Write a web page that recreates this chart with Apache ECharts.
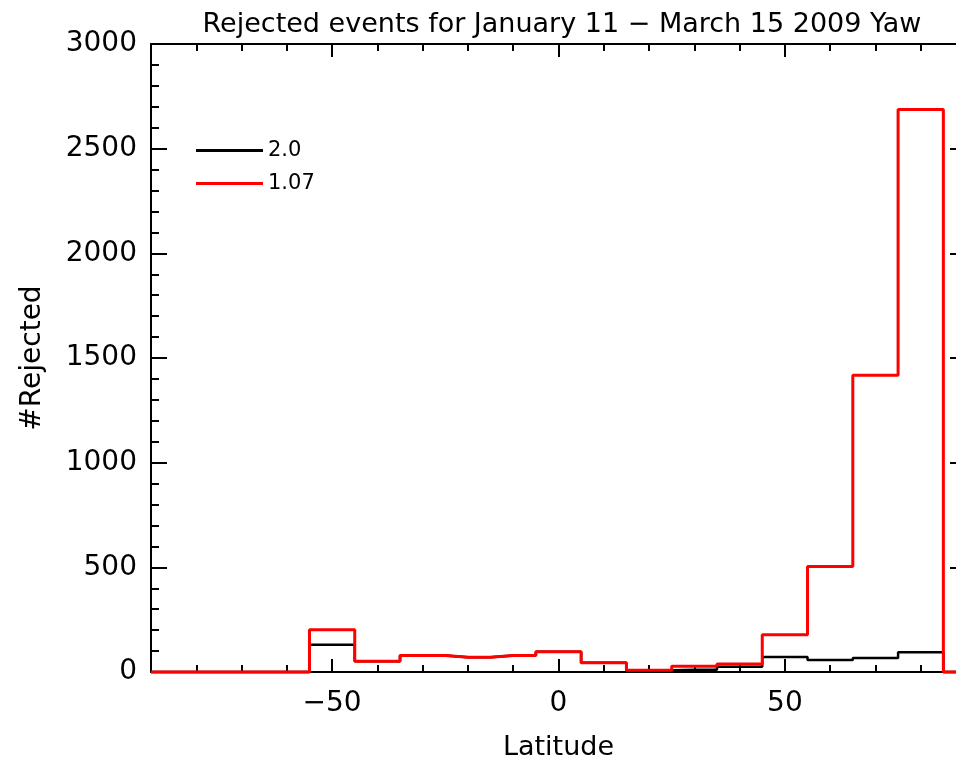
<!DOCTYPE html>
<html>
<head>
<meta charset="utf-8">
<script src="https://cdn.jsdelivr.net/npm/echarts@6/dist/echarts.min.js"></script>
<style>
  html, body { margin: 0; padding: 0; background: #fff; }
  #main { width: 956px; height: 758px; }
</style>
</head>
<body>
<div id="main"></div>
<script>
// bin centres (latitude, deg) and rejected counts per 10 deg bin
var latitude = [-90, -80, -70, -60, -50, -40, -30, -20, -10, 0, 10, 20, 30, 40, 50, 60, 70, 80, 90];
var rejected20 = [0, 0, 0, 0, 130, 51, 79, 70, 79, 97, 44, 8, 11, 25, 72, 57, 67, 94, 0];
var rejected107 = [0, 0, 0, 0, 202, 51, 79, 70, 79, 97, 44, 8, 27, 38, 178, 504, 1418, 2687, 0];
var xMajor = [-50, 0, 50];

function pairs(xs, ys) {
  return xs.map(function (x, i) { return [x, ys[i]]; });
}

var font = 'DejaVu Sans';
var chart = echarts.init(document.getElementById('main'), null, { renderer: 'canvas' });

// x axes: minor ticks every 10, majors on a second axis at the same spot
function xAx(pos, major, labels) {
  return {
    type: 'value', position: pos, min: -90, max: 90,
    interval: major ? undefined : 10,
    splitLine: { show: false },
    axisLine: { show: !major, onZero: false, lineStyle: { color: '#000', width: 2 } },
    axisTick: major
      ? { show: true, inside: true, length: 13, customValues: xMajor, lineStyle: { color: '#000', width: 2 } }
      : { show: true, inside: true, length: 7, lineStyle: { color: '#000', width: 2 } },
    axisLabel: labels ? {
      show: true, customValues: xMajor, margin: 18,
      fontFamily: font, fontSize: 28, color: '#000',
      formatter: function (v) { return v < 0 ? '\u2212' + Math.abs(v) : String(v); }
    } : { show: false }
  };
}

function yAx(pos, labels) {
  return {
    type: 'value', position: pos, min: 0, max: 3000, interval: 500,
    splitLine: { show: false },
    axisLine: { show: true, onZero: false, lineStyle: { color: '#000', width: 2 } },
    axisTick: { show: true, inside: true, length: 16, lineStyle: { color: '#000', width: 2 } },
    minorTick: { show: true, splitNumber: 5, length: 8, lineStyle: { color: '#000', width: 2 } },
    axisLabel: labels ? {
      show: true, margin: 14, fontFamily: font, fontSize: 28, color: '#000',
      formatter: function (v) { return String(v); }
    } : { show: false }
  };
}

var bottomMinor = xAx('bottom', false, false);
var bottomMajor = xAx('bottom', true, true);
bottomMajor.name = 'Latitude';
bottomMajor.nameLocation = 'middle';
bottomMajor.nameGap = 62;
bottomMajor.nameTextStyle = { fontFamily: font, fontSize: 27, color: '#000' };

var leftAxis = yAx('left', true);
leftAxis.name = '#Rejected';
leftAxis.nameLocation = 'middle';
leftAxis.nameGap = 104;
leftAxis.nameTextStyle = { fontFamily: font, fontSize: 28, color: '#000' };

var option = {
  backgroundColor: '#fff',
  animation: false,
  title: {
    text: 'Rejected events for January 11 \u2212 March 15 2009 Yaw',
    left: 557, top: 6, textAlign: 'center',
    textStyle: { fontFamily: font, fontSize: 27, fontWeight: 'normal', color: '#000' }
  },
  legend: {
    orient: 'vertical', left: 196, top: 140, padding: 0,
    icon: 'rect', itemWidth: 67, itemHeight: 3, itemGap: 12,
    textStyle: { fontFamily: font, fontSize: 21, color: '#000', padding: [0, 0, 8, 0] },
    data: ['2.0', '1.07']
  },
  // plot runs past the right edge of the picture (x = 90 falls off-canvas)
  grid: {
    left: 151, top: 44, width: 815, height: 628,
    containLabel: false, outerBoundsMode: 'none'
  },
  xAxis: [bottomMinor, bottomMajor, xAx('top', false, false), xAx('top', true, false)],
  yAxis: [leftAxis, yAx('right', false)],
  series: [
    {
      name: '2.0', type: 'line', step: 'middle', showSymbol: false, clip: false,
      xAxisIndex: 0, yAxisIndex: 0,
      lineStyle: { color: '#000', width: 2.5 }, itemStyle: { color: '#000' },
      data: pairs(latitude, rejected20)
    },
    {
      name: '1.07', type: 'line', step: 'middle', showSymbol: false, clip: false,
      xAxisIndex: 0, yAxisIndex: 0,
      lineStyle: { color: '#ff0000', width: 3 }, itemStyle: { color: '#ff0000' },
      data: pairs(latitude, rejected107)
    }
  ]
};

chart.setOption(option);
</script>
</body>
</html>
